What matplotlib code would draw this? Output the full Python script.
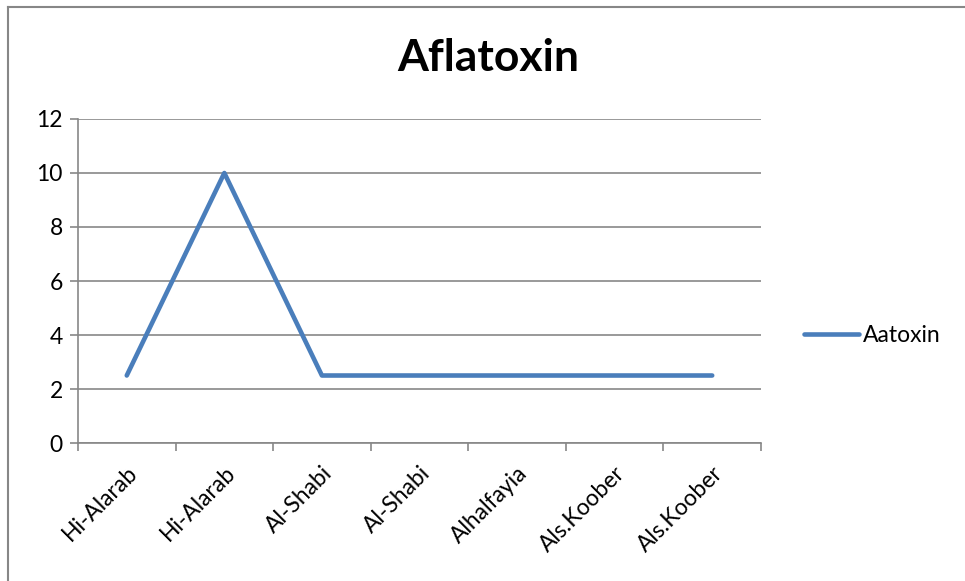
import matplotlib

matplotlib.use("Agg")
import matplotlib.pyplot as plt
from matplotlib.lines import Line2D

plt.rcParams["font.family"] = ["Lato", "DejaVu Sans"]

# data
sites = ["Hi-Alarab", "Hi-Alarab", "Al-Shabi", "Al-Shabi",
         "Alhalfayia", "Als.Koober", "Als.Koober"]
aflatoxin = [2.5, 10, 2.5, 2.5, 2.5, 2.5, 2.5]
y_ticks = [0, 2, 4, 6, 8, 10, 12]

grey = "#878787"
blue = "#4A7EBB"

fig = plt.figure(figsize=(9.65, 5.81), dpi=100)
ax = fig.add_axes([0.0808, 0.2375, 0.7078, 0.5577])

x = list(range(len(sites)))
line, = ax.plot(x, aflatoxin, color=blue, linewidth=3.3,
                solid_capstyle="round", label="Aatoxin")

ax.set_xlim(-0.5, len(sites) - 0.5)
ax.set_ylim(0, 12)
ax.set_yticks(y_ticks)
ax.set_yticklabels([str(t) for t in y_ticks], fontsize=16.5)
ax.yaxis.grid(True, color=grey, linewidth=1.2)
ax.set_axisbelow(True)

# category labels at centres, tick marks at boundaries
ax.set_xticks(x)
ax.set_xticklabels(sites, rotation=45, ha="right", rotation_mode="anchor",
                   fontsize=16.5)
ax.tick_params(axis="x", length=0, pad=14)
ax.set_xticks([i - 0.5 for i in range(len(sites) + 1)], minor=True)
ax.tick_params(axis="x", which="minor", length=6, width=1.2, color=grey)
ax.tick_params(axis="y", length=6, width=1.2, color=grey, pad=5)

for side in ["top", "right"]:
    ax.spines[side].set_visible(False)
for side in ["left", "bottom"]:
    ax.spines[side].set_color(grey)
    ax.spines[side].set_linewidth(1.2)

fig.text(488 / 965, 1 - 58 / 581, "Aflatoxin", fontsize=32, fontweight="bold",
         ha="center", va="center")

fig.legend(handles=[line], loc="center left",
           bbox_to_anchor=(795 / 965, 1 - 336 / 581), frameon=False,
           fontsize=16.5, handlelength=2.4, handletextpad=0.15,
           borderaxespad=0)

# outer chart border (left and top edges visible in the reference)
fig.add_artist(Line2D([0.0085, 0.0085], [0, 1 - 7 / 581],
                      transform=fig.transFigure, color=grey, linewidth=1.5))
fig.add_artist(Line2D([0.0085, 1], [1 - 7 / 581, 1 - 7 / 581],
                      transform=fig.transFigure, color=grey, linewidth=1.5))

fig.savefig("out.png", dpi=100)
